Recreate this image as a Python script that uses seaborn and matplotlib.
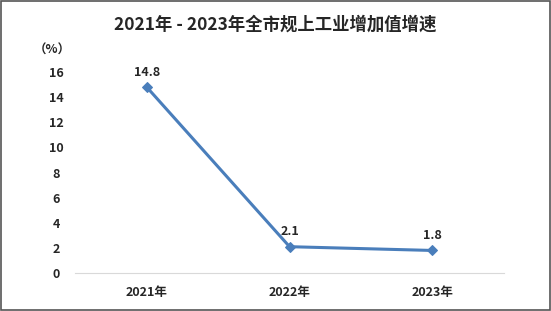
import matplotlib
matplotlib.use("Agg")
import matplotlib.pyplot as plt
import seaborn as sns
import pandas as pd

years = ["2021年", "2022年", "2023年"]
growth = [14.8, 2.1, 1.8]
yticks = [0, 2, 4, 6, 8, 10, 12, 14, 16]

sns.set_theme(style="white")
plt.rcParams['font.family'] = ['Noto Sans CJK SC', 'DejaVu Sans']

df = pd.DataFrame({"year": years, "growth": growth})

fig = plt.figure(figsize=(5.51, 3.11), dpi=100)
ax = fig.add_axes([0.137, 0.122, 0.777, 0.646])
color = "#4a7ebb"
sns.lineplot(data=df, x="year", y="growth", ax=ax, color=color, linewidth=2.2,
             marker="D", markersize=5, markeredgecolor=color, sort=False)
ax.set_xlim(-0.5, 2.5)
ax.set_ylim(0, 16)
ax.set_yticks(yticks)
ax.set_yticklabels([str(t) for t in yticks], fontsize=9, fontweight="bold")
ax.set_xticks(range(len(years)))
ax.set_xticklabels(years, fontsize=9, fontweight="bold")
ax.tick_params(axis="both", length=0)
ax.tick_params(axis="y", pad=14)
ax.tick_params(axis="x", pad=9)
for lbl in ax.get_yticklabels():
    lbl.set_horizontalalignment("center")
for s in ["top", "right", "left"]:
    ax.spines[s].set_visible(False)
ax.spines["bottom"].set_color("#d9d9d9")
ax.spines["bottom"].set_linewidth(0.8)
ax.set_xlabel("")
ax.set_ylabel("")
for i, v in enumerate(growth):
    ax.annotate(f"{v}", (i, v), xytext=(0, 6), textcoords="offset points",
                ha="center", va="bottom", fontsize=9, fontweight="bold")
fig.text(0.5, 0.92, "2021年 - 2023年全市规上工业增加值增速", ha="center", va="center",
         fontsize=12.5, fontweight="bold")
fig.text(0.094, 0.838, "（%）", ha="center", va="center", fontsize=9, fontweight="bold")
border = plt.Rectangle((0.002, 0.003), 0.996, 0.994, transform=fig.transFigure,
                       fill=False, edgecolor="#555555", linewidth=1.2)
fig.patches.append(border)
fig.savefig("out.png", dpi=100)
